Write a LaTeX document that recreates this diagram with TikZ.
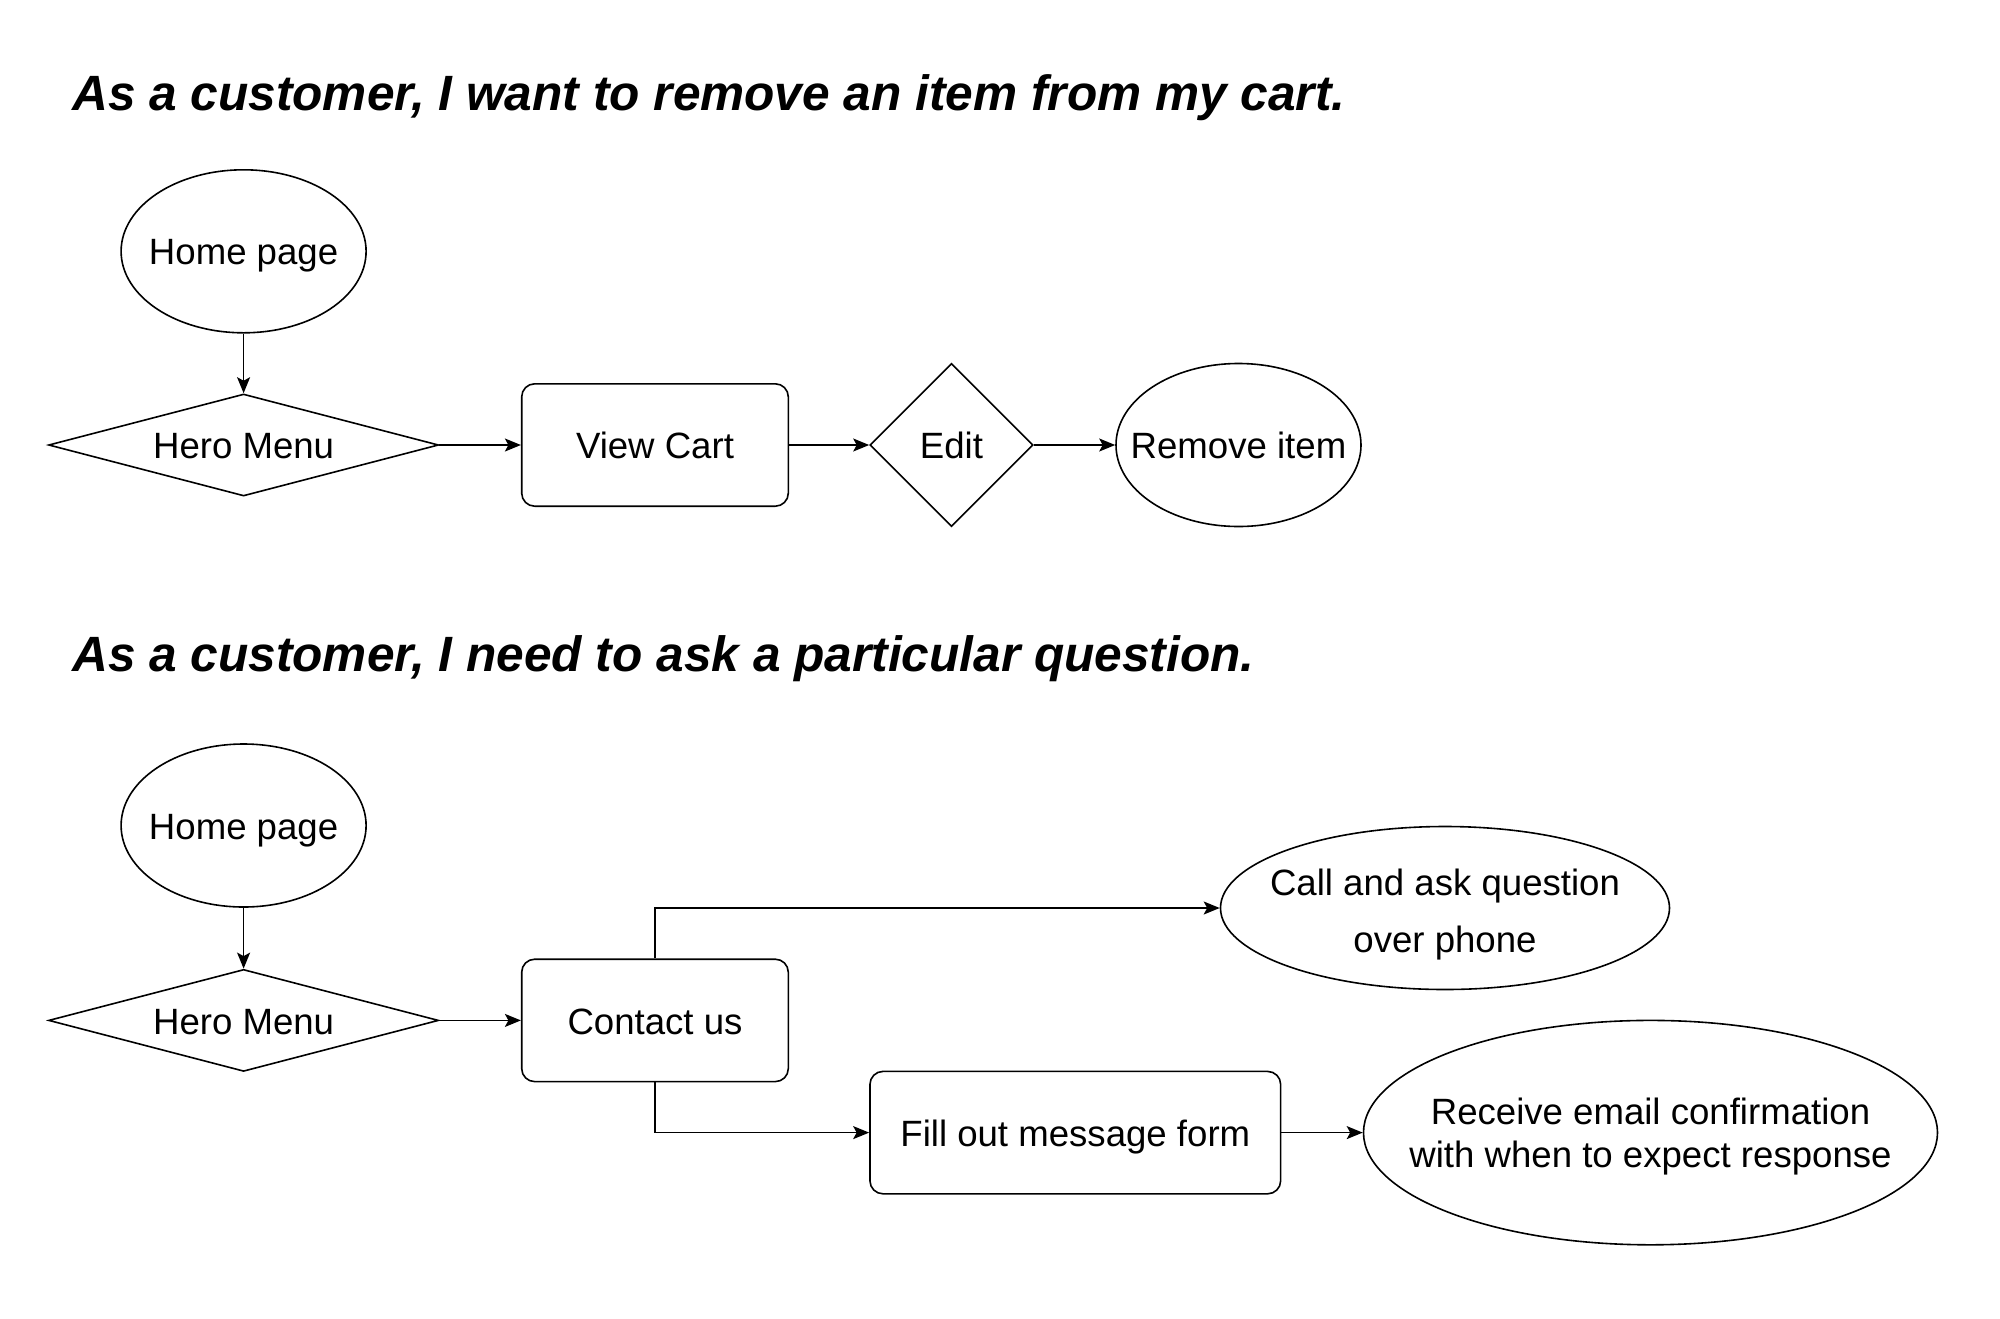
\documentclass[tikz,border=0pt]{standalone}
\usepackage{fontspec}
\setmainfont{Liberation Sans}
\usetikzlibrary{shapes.geometric,arrows.meta}
\newcommand{\zbox}[1]{\raisebox{-5pt}[\height][\depth]{\makebox[0pt]{\begin{tabular}{@{}c@{}}#1\end{tabular}}}}
\begin{document}
\begin{tikzpicture}[x=1pt,y=-1pt,
  every node/.style={font=\fontsize{36.6}{43}\selectfont, inner sep=0pt},
  ln/.style={line width=1.6pt},
  arr/.style={ln, -{Stealth[length=16pt,width=13pt,inset=3.5pt]}},
  oval/.style={ellipse, draw, ln},
  dia/.style={diamond, draw, ln},
  rbox/.style={rectangle, draw, ln, rounded corners=13pt},
  ttl/.style={anchor=base west, font=\fontsize{49.6}{58}\selectfont\bfseries\itshape}
]
\useasboundingbox (0,0) rectangle (2000,1318);
\fill[white] (0,0) rectangle (2000,1318);

% titles
\node[ttl] (t1) at (72,110) {As a customer, I want to remove an item from my cart.};
\node[ttl] (t2) at (72,671) {As a customer, I need to ask a particular question.};

% section 1
\node[oval, minimum width=245pt, minimum height=163pt] (home1) at (243.6,251.3) {\zbox{Home page}};
\node[dia, minimum width=390pt, minimum height=102pt] (hero1) at (243.6,445) {\zbox{Hero Menu}};
\node[rbox, minimum width=266.6pt, minimum height=122.4pt] (cart) at (655,445) {\zbox{View Cart}};
\node[dia, minimum width=163pt, minimum height=163pt] (edit) at (951.5,445) {\zbox{Edit}};
\node[oval, minimum width=245pt, minimum height=163pt] (remove) at (1238.5,445) {\zbox{Remove item}};

\draw[arr] (home1) -- (hero1);
\draw[arr] (hero1) -- (cart);
\draw[arr] (cart) -- (edit);
\draw[arr] (edit) -- (remove);

% section 2
\node[oval, minimum width=245pt, minimum height=163pt] (home2) at (243.6,825.5) {\zbox{Home page}};
\node[dia, minimum width=390pt, minimum height=102pt] (hero2) at (243.6,1020.4) {\zbox{Hero Menu}};
\node[rbox, minimum width=266.6pt, minimum height=122.4pt] (contact) at (655,1020.4) {\zbox{Contact us}};
\node[oval, minimum width=449pt, minimum height=163pt] (call) at (1445,908) {\fontsize{36.6}{57}\selectfont\zbox{Call and ask question\\over phone}};
\node[rbox, minimum width=410.7pt, minimum height=122.4pt] (fill) at (1075.3,1132.6) {\zbox{Fill out message form}};
\node[oval, minimum width=574pt, minimum height=224.4pt] (receive) at (1650.5,1132.6) {\zbox{Receive email confirmation\\with when to expect response}};

\draw[arr] (home2) -- (hero2);
\draw[arr] (hero2) -- (contact);
\draw[arr] (contact.north) |- (call);
\draw[arr] (contact.south) |- (fill);
\draw[arr] (fill) -- (receive);
\end{tikzpicture}
\end{document}
